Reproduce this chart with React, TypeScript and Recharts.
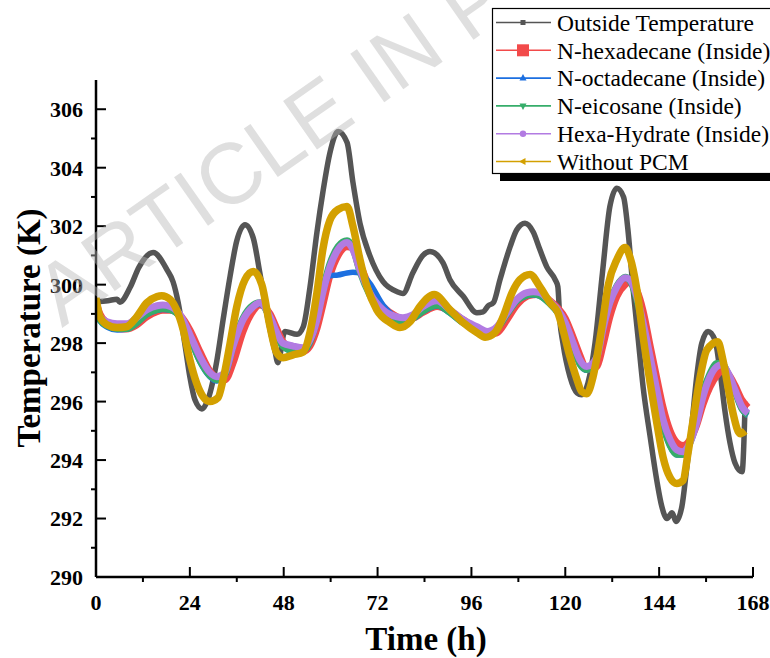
import { LineChart, Line, XAxis, YAxis } from "recharts";

// time axis (h) for each series + temperatures (K)
const outsideTime = [0, 3, 5.4, 6.1, 8.7, 11, 14.6, 18.2, 19.7, 21, 22.8, 24, 25.3, 27.1, 28.7, 30.9, 32.5, 34.3, 36, 38.1, 40.2, 41.9, 43.7, 45.8, 46.5, 48.3, 51.4, 53, 54.7, 56.5, 58, 59.8, 61.9, 64.2, 65.7, 67.5, 70, 73.4, 77, 78.5, 81, 83.6, 85.4, 88.7, 90.5, 93.9, 97.4, 99, 100.3, 101.6, 103.3, 105.9, 107.6, 109.7, 111.8, 113.5, 115.3, 117.4, 118.1, 118.6, 119.4, 121.2, 123, 124.2, 125.8, 127.6, 129.5, 131.4, 133.2, 134.9, 136, 137.3, 138.6, 139.9, 141.7, 143.4, 144.7, 146, 147.3, 148.3, 149.8, 151, 152.4, 153.6, 154.9, 156.5, 158.3, 159.5, 160.8, 162.1, 163.4, 165.2, 166];
const outsideTemp = [299.42, 299.45, 299.5, 299.4, 299.9, 300.6, 301.1, 300.5, 300.1, 299.4, 297.9, 296.85, 296.06, 295.75, 296.1, 297.4, 298.8, 300.3, 301.5, 302.05, 301.6, 300.4, 299.0, 297.7, 297.33, 298.4, 298.3, 298.56, 299.9, 301.8, 303.15, 304.5, 305.24, 304.86, 303.5, 302.1, 301.0, 300.1, 299.76, 299.7, 300.4, 301.0, 301.13, 300.75, 300.17, 299.6, 299.04, 299.07, 299.28, 299.38, 300.17, 301.3, 301.88, 302.1, 301.8, 301.2, 300.6, 300.17, 299.93, 298.8, 298.0, 296.85, 296.3, 296.23, 296.64, 298.0, 300.4, 302.67, 303.3, 303.0, 301.9, 299.9, 298.2, 296.5, 294.8, 293.3, 292.4, 292.0, 292.2, 291.9, 292.4, 293.66, 295.27, 296.85, 298.0, 298.4, 298.1, 297.1, 295.7, 294.6, 293.9, 293.6, 296.0];

const pcmTime = [0, 1, 2.8, 5.4, 7.8, 10.4, 13, 15.6, 17.1, 19, 21.5, 24, 26.6, 29.1, 30.9, 33, 35, 37.6, 40.2, 41.9, 44.5, 46.2, 47.8, 50.4, 53, 54.7, 56.5, 58, 59.8, 61.9, 64.2, 65.7, 67.5, 70, 73.4, 77, 78.5, 81, 83.6, 87.2, 90.5, 93.9, 97.4, 100, 102.5, 105.1, 107.6, 110.2, 111.8, 113.5, 116.1, 118.1, 120, 122, 123.7, 125.5, 128.1, 129.6, 131.4, 133.2, 135.3, 136.5, 138.3, 139.9, 141.7, 143.4, 145, 146.8, 148.5, 150.1, 151.9, 153.6, 155.2, 157, 158.8, 160, 161.6, 163.4, 165.2, 166.7];
const hexadecane = [299.4, 299.0, 298.7, 298.5, 298.48, 298.62, 298.9, 299.08, 299.12, 299.12, 298.95, 298.45, 297.7, 297.05, 296.8, 296.75, 297.3, 298.4, 299.1, 299.3, 299.0, 298.5, 298.05, 297.8, 297.72, 297.9, 298.5, 299.3, 300.3, 301.0, 301.3, 301.25, 300.7, 299.9, 299.25, 298.9, 298.82, 298.85, 299.05, 299.25, 299.1, 298.8, 298.5, 298.3, 298.35, 298.8, 299.3, 299.6, 299.65, 299.68, 299.45, 299.2, 298.85, 298.2, 297.6, 297.1, 297.2, 297.9, 298.9, 299.6, 300.0, 300.1, 299.8, 299.1, 297.9, 296.8, 295.8, 295.0, 294.6, 294.5, 294.7, 295.2, 295.9, 296.5, 296.9, 297.05, 296.95, 296.55, 296.05, 295.8];
const octadecane = [299.15, 298.75, 298.55, 298.45, 298.47, 298.67, 298.97, 299.12, 299.15, 299.12, 298.88, 298.15, 297.35, 296.85, 296.7, 296.9, 297.85, 298.8, 299.25, 299.33, 298.85, 298.25, 297.9, 297.72, 297.72, 298.0, 298.78, 299.7, 300.3, 300.33, 300.4, 300.42, 300.4, 300.05, 299.3, 298.85, 298.72, 298.82, 299.07, 299.27, 299.02, 298.67, 298.42, 298.27, 298.47, 298.97, 299.42, 299.62, 299.65, 299.6, 299.32, 299.02, 298.57, 297.87, 297.27, 297.07, 297.52, 298.47, 299.37, 299.92, 300.22, 300.12, 299.47, 298.52, 297.32, 296.17, 295.17, 294.47, 294.17, 294.17, 294.57, 295.32, 296.27, 296.92, 297.27, 297.27, 296.92, 296.32, 295.72, 295.52];
const eicosane = [299.2, 298.8, 298.6, 298.5, 298.5, 298.7, 299.0, 299.15, 299.18, 299.15, 298.9, 298.2, 297.4, 296.9, 296.75, 296.95, 297.9, 298.85, 299.3, 299.38, 298.85, 298.25, 297.9, 297.75, 297.75, 298.05, 298.85, 299.8, 300.7, 301.3, 301.5, 301.25, 300.45, 299.65, 299.05, 298.75, 298.72, 298.85, 299.1, 299.3, 299.05, 298.7, 298.45, 298.3, 298.5, 299.0, 299.45, 299.65, 299.68, 299.63, 299.35, 299.05, 298.6, 297.9, 297.3, 297.1, 297.55, 298.5, 299.4, 299.95, 300.25, 300.15, 299.5, 298.55, 297.35, 296.2, 295.2, 294.5, 294.2, 294.2, 294.6, 295.35, 296.3, 296.95, 297.3, 297.3, 296.95, 296.35, 295.75, 295.55];
const hexaHydrate = [299.3, 298.9, 298.73, 298.66, 298.66, 298.87, 299.14, 299.28, 299.3, 299.25, 298.97, 298.29, 297.53, 297.0, 296.85, 297.0, 297.88, 298.8, 299.25, 299.38, 298.9, 298.36, 298.0, 297.9, 297.84, 298.1, 298.8, 299.73, 300.6, 301.2, 301.44, 301.2, 300.5, 299.73, 299.14, 298.9, 298.87, 298.97, 299.25, 299.45, 299.14, 298.8, 298.56, 298.4, 298.56, 299.04, 299.5, 299.73, 299.76, 299.73, 299.42, 299.14, 298.7, 298.0, 297.43, 297.2, 297.53, 298.46, 299.38, 299.93, 300.24, 300.17, 299.59, 298.7, 297.53, 296.4, 295.38, 294.7, 294.35, 294.28, 294.6, 295.27, 296.16, 296.85, 297.2, 297.26, 296.99, 296.4, 295.82, 295.6];

const noPcmTime = [0, 1, 2.8, 5.4, 7.8, 10.4, 13, 15.6, 16.8, 19, 20.6, 22.3, 24, 25.7, 27.4, 29.1, 31.2, 32.5, 34.3, 36, 38.1, 40.2, 42.4, 44.5, 46.2, 47.8, 50.4, 53, 54.7, 56.5, 58, 59.8, 61.9, 64.2, 65.7, 67.5, 69.3, 71.8, 75.2, 77.7, 80.3, 82.8, 86.5, 90.5, 93.9, 97.4, 99.5, 102, 104.1, 106.4, 108.4, 111, 113.5, 116.1, 118.1, 119.4, 121.2, 123, 124.2, 125.5, 127.1, 129.3, 131, 133.2, 135.3, 136.5, 138.3, 139.9, 141.7, 143.4, 145, 146.8, 148.5, 150.1, 151.4, 152.7, 154.5, 156.2, 159, 160.3, 161.6, 162.9, 164.7, 166];
const withoutPcm = [299.55, 298.9, 298.63, 298.53, 298.56, 298.9, 299.38, 299.59, 299.62, 299.49, 299.14, 298.46, 297.43, 296.64, 296.16, 296.0, 296.13, 296.75, 298.0, 299.25, 300.17, 300.45, 300.0, 298.56, 297.67, 297.5, 297.6, 297.7, 298.36, 299.73, 301.2, 302.2, 302.57, 302.67, 302.0, 300.86, 299.93, 299.14, 298.7, 298.53, 298.73, 299.25, 299.66, 299.14, 298.7, 298.36, 298.2, 298.36, 298.9, 299.73, 300.17, 300.35, 299.93, 299.38, 299.04, 298.46, 297.53, 296.75, 296.34, 296.27, 296.85, 298.5, 300.0, 300.86, 301.27, 300.96, 299.83, 298.22, 296.64, 295.27, 294.1, 293.4, 293.2, 293.3, 294.25, 295.38, 296.85, 297.77, 298.05, 297.43, 296.5, 295.6, 294.9, 295.0];

const xTicks = [0, 12, 24, 36, 48, 60, 72, 84, 96, 108, 120, 132, 144, 156, 168];
const yTicks = [290, 291, 292, 293, 294, 295, 296, 297, 298, 299, 300, 301, 302, 303, 304, 305, 306];

const series = [
  { name: "Outside Temperature", time: outsideTime, temp: outsideTemp, color: "#555555", width: 5.5, marker: "smallSquare" },
  { name: "N-hexadecane (Inside)", time: pcmTime, temp: hexadecane, color: "#f24a4a", width: 7, marker: "square" },
  { name: "N-octadecane (Inside)", time: pcmTime, temp: octadecane, color: "#1c6fe0", width: 5.5, marker: "up" },
  { name: "N-eicosane (Inside)", time: pcmTime, temp: eicosane, color: "#36ad6a", width: 7, marker: "down" },
  { name: "Hexa-Hydrate (Inside)", time: pcmTime, temp: hexaHydrate, color: "#b27be2", width: 7, marker: "diamond" },
  { name: "Without PCM", time: noPcmTime, temp: withoutPcm, color: "#d3a000", width: 7.5, marker: "left" },
];

const FONT = "'Liberation Serif', 'Times New Roman', serif";
const X_MARGIN = 16;
const Y_MARGIN = 13;

function XTick(props: any) {
  const { x, y, payload } = props;
  const v = payload.value;
  const axisY = y - X_MARGIN;
  const major = v % 24 === 0;
  return (
    <g>
      <line x1={x} x2={x} y1={axisY} y2={major ? axisY - 10 : axisY + 5} stroke="#000" strokeWidth={2} />
      {major && (
        <text x={x} y={y} dy="0.75em" textAnchor="middle" fontFamily={FONT} fontWeight="bold" fontSize={22} fill="#000">
          {v}
        </text>
      )}
    </g>
  );
}

function YTick(props: any) {
  const { x, y, payload } = props;
  const v = payload.value;
  const axisX = x + Y_MARGIN;
  const major = v % 2 === 0;
  return (
    <g>
      <line x1={axisX} x2={major ? axisX + 10 : axisX - 5} y1={y} y2={y} stroke="#000" strokeWidth={2} />
      {major && (
        <text x={x} y={y} dy="0.36em" textAnchor="end" fontFamily={FONT} fontWeight="bold" fontSize={22} fill="#000">
          {v}
        </text>
      )}
    </g>
  );
}

function Marker({ kind, x, y, color }: { kind: string; x: number; y: number; color: string }) {
  if (kind === "square") return <rect x={x - 6} y={y - 6} width={12} height={12} fill={color} />;
  if (kind === "smallSquare") return <rect x={x - 2.5} y={y - 2.5} width={5} height={5} fill={color} />;
  if (kind === "up") return <polygon points={`${x},${y - 4} ${x - 3.5},${y + 2.5} ${x + 3.5},${y + 2.5}`} fill={color} />;
  if (kind === "down") return <polygon points={`${x},${y + 4} ${x - 3.5},${y - 2.5} ${x + 3.5},${y - 2.5}`} fill={color} />;
  if (kind === "diamond") return <circle cx={x} cy={y} r={3.2} fill={color} />;
  return <polygon points={`${x - 4},${y} ${x + 2.5},${y - 3.5} ${x + 2.5},${y + 3.5}`} fill={color} />;
}

function Overlay() {
  return (
    <svg width={770} height={658} style={{ position: "absolute", left: 0, top: 0, pointerEvents: "none" }}>
      {/* axis titles */}
      <text x={29} y={328} transform="rotate(-90 29 328)" textAnchor="middle" dominantBaseline="central" fontFamily={FONT} fontWeight="bold" fontSize={33} fill="#000">
        Temperature (K)
      </text>
      <text x={426} y={650} textAnchor="middle" fontFamily={FONT} fontWeight="bold" fontSize={33} fill="#000">
        Time (h)
      </text>
      {/* legend */}
      <rect x={500} y={174} width={280} height={7} fill="#000" />
      <rect x={492.5} y={8.5} width={290} height={165} fill="#fff" stroke="#000" strokeWidth={1.2} />
      {series.map((s, i) => {
        const cy = 22.5 + i * 27.8;
        return (
          <g key={s.name}>
            <line x1={496} x2={551} y1={cy} y2={cy} stroke={s.color} strokeWidth={1.6} />
            <Marker kind={s.marker} x={523} y={cy} color={s.color} />
            <text x={557} y={cy} dy="0.35em" fontFamily={FONT} fontSize={23.5} fill="#000">
              {s.name}
            </text>
          </g>
        );
      })}
      {/* watermark */}
      <text x={62} y={328} transform="rotate(-35 62 328)" fontFamily="'Liberation Sans', Arial, sans-serif" fontSize={86} fill="#b8b8b8" fillOpacity={0.45}>
        ARTICLE IN P
      </text>
    </svg>
  );
}

export default function App() {
  return (
    <div style={{ position: "absolute", left: 0, top: 0, width: 770, height: 658, background: "#fff" }}>
      <LineChart width={770} height={658} margin={{ top: 80, right: 17, bottom: 0, left: 0 }}>
        <XAxis
          xAxisId="b"
          type="number"
          dataKey="t"
          domain={[0, 168]}
          ticks={xTicks}
          interval={0}
          allowDataOverflow
          height={81}
          tickSize={0}
          tickMargin={X_MARGIN}
          tickLine={false}
          tick={<XTick />}
          axisLine={{ stroke: "#000", strokeWidth: 2.5 }}
        />
        <XAxis xAxisId="top" orientation="top" type="number" domain={[0, 168]} height={0} tick={false} tickLine={false} axisLine={{ stroke: "#000", strokeWidth: 2.5 }} />
        <YAxis
          yAxisId="l"
          type="number"
          domain={[290, 307]}
          ticks={yTicks}
          interval={0}
          allowDataOverflow
          width={96}
          tickSize={0}
          tickMargin={Y_MARGIN}
          tickLine={false}
          tick={<YTick />}
          axisLine={{ stroke: "#000", strokeWidth: 2.5 }}
        />
        <YAxis yAxisId="r" orientation="right" type="number" domain={[290, 307]} width={0} tick={false} tickLine={false} axisLine={{ stroke: "#000", strokeWidth: 2.5 }} />
        {series.map((s) => (
          <Line
            key={s.name}
            xAxisId="b"
            yAxisId="l"
            data={s.time.map((t, i) => ({ t, v: s.temp[i] }))}
            dataKey="v"
            type="monotone"
            stroke={s.color}
            strokeWidth={s.width}
            strokeLinejoin="round"
            dot={false}
            activeDot={false}
            isAnimationActive={false}
          />
        ))}
      </LineChart>
      <Overlay />
    </div>
  );
}
